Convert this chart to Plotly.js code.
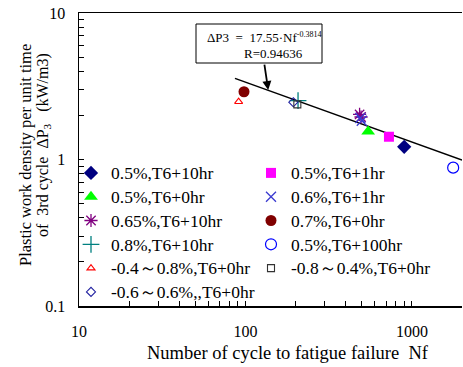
<!DOCTYPE html>
<html><head><meta charset="utf-8">
<script src="https://cdn.plot.ly/plotly-3.0.1.min.js"></script>
<style>body{margin:0;padding:0;background:#fff}#c{width:463px;height:367px}</style>
</head><body><div id="c"></div>
<script>
// Data
const nf_05_10 = [899],  p_05_10 = [1.22];
const nf_05_1  = [728],  p_05_1  = [1.43];
const nf_05_0  = [546],  p_05_0  = [1.55];
const nf_06_1  = [490, 500], p_06_1 = [1.92, 1.84];
const nf_065_10 = [485, 495], p_065_10 = [2.03, 1.95];
const nf_07_0  = [98],   p_07_0  = [2.90];
const nf_08_10 = [207],  p_08_10 = [2.52];
const nf_05_100 = [1770], p_05_100 = [0.88];
const nf_m04 = [91],  p_m04 = [2.48];
const nf_m08 = [205], p_m08 = [2.38];
const nf_m06 = [194], p_m06 = [2.46];
const fitNf = [86.5, 2000], fitP = [3.58, 0.99];
const xTickVals = [10, 100, 1000], xTickText = ['10', '100', '1000'];
const yTickVals = [0.1, 1, 10], yTickText = ['0.1', '1', '10'];
const xMinor = [20,30,40,50,60,70,80,90,200,300,400,500,600,700,800,900,2000];
const yMinor = [0.2,0.3,0.4,0.5,0.6,0.7,0.8,0.9,2,3,4,5,6,7,8,9];

const F = 'Liberation Serif, Times New Roman, serif';
const big = s => '<span style="font-size:17.5px">' + s + '</span>';
function tr(x, y, name, sym, size, color, leg, grp, lw) {
  return {
    x: x, y: y, name: big(name), type: 'scatter', mode: 'markers',
    legend: leg, legendgroup: grp,
    marker: {symbol: sym, size: size, color: color,
             line: {color: color, width: lw}}
  };
}
const traces = [
  {x: fitNf, y: fitP, type: 'scatter', mode: 'lines', showlegend: false,
   line: {color: '#000', width: 1.5}, hoverinfo: 'skip'},
  tr(nf_05_10, p_05_10, '0.5%,T6+10hr', 'diamond', 11, '#000080', 'legend', 'a1', 0),
  tr(nf_05_0, p_05_0, '0.5%,T6+0hr', 'triangle-up', 12, '#00FF00', 'legend', 'a2', 0),
  tr(nf_065_10, p_065_10, '0.65%,T6+10hr', 'asterisk-open', 11, '#800080', 'legend', 'a3', 1.3),
  tr(nf_08_10, p_08_10, '0.8%,T6+10hr', 'cross-thin-open', 12, '#008080', 'legend', 'a4', 1.3),
  tr(nf_m04, p_m04, '-0.4～0.8%,T6+0hr', 'triangle-up-open', 7, '#FF0000', 'legend', 'a5', 1.1),
  tr(nf_m06, p_m06, '-0.6～0.6%,,T6+0hr', 'diamond-open', 7, '#2020A0', 'legend', 'a6', 1.1),
  tr(nf_05_1, p_05_1, '0.5%,T6+1hr', 'square', 10, '#FF00FF', 'legend2', 'b1', 0),
  tr(nf_06_1, p_06_1, '0.6%,T6+1hr', 'x-thin-open', 10, '#3A3AD0', 'legend2', 'b2', 1.3),
  tr(nf_07_0, p_07_0, '0.7%,T6+0hr', 'circle', 11, '#800000', 'legend2', 'b3', 0),
  tr(nf_05_100, p_05_100, '0.5%,T6+100hr', 'circle-open', 11, '#0000FF', 'legend2', 'b4', 1.2),
  tr(nf_m08, p_m08, '-0.8～0.4%,T6+0hr', 'square-open', 7, '#333333', 'legend2', 'b5', 1.1)
];
const L = 79, T = 13, W = 383, H = 293;
const px = v => (v - L) / W, py = v => (T + H - v) / H;
const legCommon = {bgcolor: 'rgba(0,0,0,0)', font: {family: F, size: 16, color: '#000'},
  traceorder: 'grouped', tracegroupgap: 0, itemsizing: 'trace', yanchor: 'top', xanchor: 'left'};
const layout = {
  width: 463, height: 367, margin: {l: L, r: 1, t: T, b: 61},
  paper_bgcolor: '#fff', plot_bgcolor: '#fff', showlegend: true,
  font: {family: F, size: 16, color: '#000'},
  xaxis: {type: 'log', range: [1, Math.log10(2000)], tickvals: xTickVals, ticktext: xTickText,
    ticks: 'inside', ticklen: 5, tickcolor: '#000', tickwidth: 1, showgrid: false, zeroline: false,
    showline: true, linecolor: '#000', linewidth: 1.5, mirror: true, ticklabelstandoff: 10,
    minor: {tickvals: xMinor, ticks: 'inside', ticklen: 5, tickcolor: '#000', showgrid: false},
    tickfont: {family: F, size: 16, color: '#000'}},
  yaxis: {type: 'log', range: [-1, 1], tickvals: yTickVals, ticktext: yTickText,
    ticks: 'inside', ticklen: 5, tickcolor: '#000', tickwidth: 1, showgrid: false, zeroline: false,
    showline: true, linecolor: '#000', linewidth: 1.5, mirror: false, ticklabelstandoff: 9,
    minor: {tickvals: yMinor, ticks: 'inside', ticklen: 5, tickcolor: '#000', showgrid: false},
    tickfont: {family: F, size: 16, color: '#000'}},
  legend: Object.assign({x: px(71), y: py(156)}, legCommon),
  legend2: Object.assign({x: px(251), y: py(156)}, legCommon),
  shapes: [{type: 'rect', xref: 'paper', yref: 'paper', x0: px(196), x1: px(322), y0: py(63), y1: py(24),
    line: {color: '#000', width: 1}, fillcolor: '#fff'}],
  annotations: [
    {xref: 'paper', yref: 'paper', x: px(205), y: py(37), xanchor: 'left', yanchor: 'middle', showarrow: false,
     text: 'ΔP3\u00a0\u00a0=\u00a0\u00a017.55·Nf<sup><span style="font-size:8px">-0.3814</span></sup>', font: {family: F, size: 13, color: '#000'}},
    {xref: 'paper', yref: 'paper', x: px(242), y: py(53), xanchor: 'left', yanchor: 'middle', showarrow: false,
     text: 'R=0.94636', font: {family: F, size: 13, color: '#000'}},
    {xref: 'x', yref: 'y', x: Math.log10(137), y: Math.log10(2.98), ax: -4, ay: -27,
     showarrow: true, arrowhead: 2, arrowsize: 1, arrowwidth: 1.8,
     arrowcolor: '#000', text: ''},
    {xref: 'paper', yref: 'paper', x: px(25), y: py(155), textangle: -90, showarrow: false,
     xanchor: 'center', yanchor: 'middle', text: 'Plastic work density per unit time',
     font: {family: F, size: 16.5, color: '#000'}},
    {xref: 'paper', yref: 'paper', x: px(43), y: py(145), textangle: -90, showarrow: false,
     xanchor: 'center', yanchor: 'middle', text: 'of\u00a0\u00a03rd cycle\u00a0\u00a0ΔP<sub>3</sub>\u00a0\u00a0\u00a0(kW/m3)',
     font: {family: F, size: 16, color: '#000'}},
    {xref: 'paper', yref: 'paper', x: px(288), y: py(353), showarrow: false,
     xanchor: 'center', yanchor: 'middle', text: 'Number of cycle to fatigue failure\u00a0\u00a0Nf',
     font: {family: F, size: 18.5, color: '#000'}}
  ]
};
Plotly.newPlot('c', traces, layout, {displayModeBar: false, staticPlot: true});
</script></body></html>
